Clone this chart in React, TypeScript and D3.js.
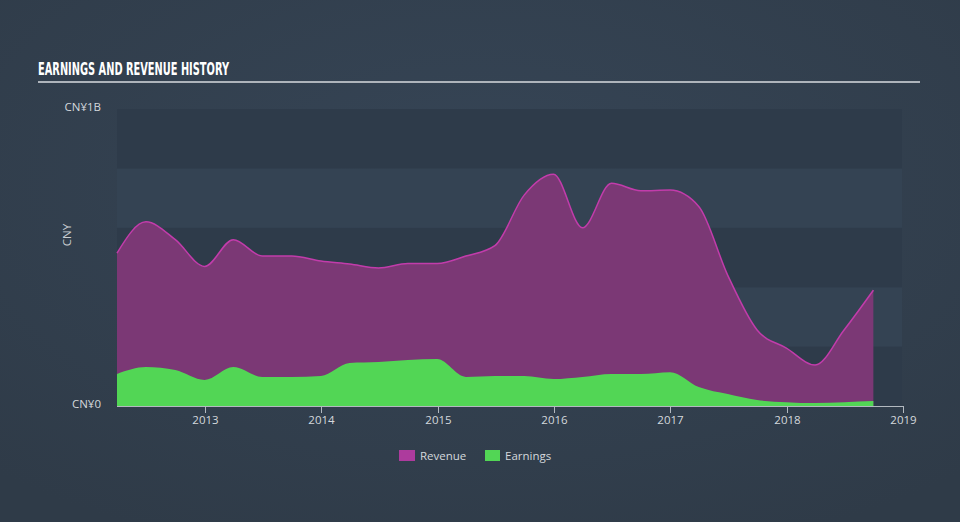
import React from "react";
import * as d3 from "d3";

const dates: string[] = [
  "2012-03-31", "2012-06-30", "2012-09-30", "2012-12-31",
  "2013-03-31", "2013-06-30", "2013-09-30", "2013-12-31",
  "2014-03-31", "2014-06-30", "2014-09-30", "2014-12-31",
  "2015-03-31", "2015-06-30", "2015-09-30", "2015-12-31",
  "2016-03-31", "2016-06-30", "2016-09-30", "2016-12-31",
  "2017-03-31", "2017-06-30", "2017-09-30", "2017-12-31",
  "2018-03-31", "2018-06-30", "2018-09-30",
];

const revenue: number[] = [
  0.515, 0.62, 0.56, 0.47,
  0.56, 0.505, 0.505, 0.488,
  0.478, 0.465, 0.48, 0.48,
  0.505, 0.54, 0.71, 0.78,
  0.60, 0.75, 0.725, 0.727,
  0.672, 0.44, 0.256, 0.195,
  0.138, 0.256, 0.39,
];

const earnings: number[] = [
  0.108, 0.131, 0.121, 0.0875,
  0.131, 0.0976, 0.0976, 0.101,
  0.145, 0.148, 0.155, 0.158,
  0.098, 0.101, 0.101, 0.091,
  0.098, 0.108, 0.108, 0.114,
  0.064, 0.040, 0.020, 0.013,
  0.010, 0.013, 0.017,
];

const xTickYears: number[] = [2013, 2014, 2015, 2016, 2017, 2018, 2019];
const yTickLabels: string[] = ["CN¥0", "CN¥1B"];
const yTickValues: number[] = [0, 1];
const bandEdges: number[] = [0, 0.2, 0.4, 0.6, 0.8, 1.0];
const legendItems: string[] = ["Revenue", "Earnings"];

const FONT = "'Open Sans', 'DejaVu Sans', sans-serif";

export default function App() {
  const W = 960, H = 522;
  const parse = d3.timeParse("%Y-%m-%d");
  const pts = dates.map((d, i) => ({ date: parse(d) as Date, rev: revenue[i], earn: earnings[i] }));

  const x = d3.scaleTime()
    .domain([parse("2012-03-31") as Date, new Date(2019, 0, 1)])
    .range([117, 903]);
  const y = d3.scaleLinear().domain([0, 1]).range([406, 109]);

  const revArea = d3.area<any>()
    .x(d => x(d.date)).y0(y(0)).y1(d => y(d.rev))
    .curve(d3.curveMonotoneX);
  const revLine = d3.line<any>()
    .x(d => x(d.date)).y(d => y(d.rev))
    .curve(d3.curveMonotoneX);
  const earnArea = d3.area<any>()
    .x(d => x(d.date)).y0(y(0)).y1(d => y(d.earn))
    .curve(d3.curveMonotoneX);

  const plotLeft = 117, plotRight = 902;

  return (
    <svg width={W} height={H} style={{ position: "absolute", left: 0, top: 0 }} fontFamily={FONT}>
      <defs>
        <radialGradient id="bg" cx="50%" cy="35%" r="75%">
          <stop offset="0%" stopColor="#364556" />
          <stop offset="100%" stopColor="#2f3b48" />
        </radialGradient>
      </defs>
      <rect x={0} y={0} width={W} height={H} fill="url(#bg)" />

      {/* title */}
      <text x={38} y={75} fill="#ffffff" fontSize={17} fontWeight="bold"
        fontFamily="'Liberation Sans Narrow', 'DejaVu Sans Condensed', sans-serif"
        textLength={191} lengthAdjust="spacingAndGlyphs">
        EARNINGS AND REVENUE HISTORY
      </text>
      <rect x={38} y={81} width={882} height={2} fill="#aeb4bb" />

      {/* bands */}
      {bandEdges.slice(0, -1).map((b, i) => (
        <rect key={i} x={plotLeft} y={y(bandEdges[i + 1])} width={plotRight - plotLeft}
          height={y(b) - y(bandEdges[i + 1])}
          fill={i % 2 === 0 ? "#2e3b4a" : "#344353"} />
      ))}

      {/* areas */}
      <path d={revArea(pts) || ""} fill="#7b3875" />
      <path d={revLine(pts) || ""} fill="none" stroke="#c23cab" strokeWidth={1.5} />
      <path d={earnArea(pts) || ""} fill="#52d655" />

      {/* x axis */}
      <line x1={plotLeft} x2={903} y1={406.5} y2={406.5} stroke="#b3b9c0" strokeWidth={1} />
      {xTickYears.map(yr => {
        const xx = Math.round(x(new Date(yr, 0, 1))) + 0.5;
        return (
          <g key={yr}>
            <line x1={xx} x2={xx} y1={406} y2={413} stroke="#b3b9c0" strokeWidth={1} />
            <text x={xx} y={424} fill="#d4d8dc" fontSize={11.5} textAnchor="middle">{yr}</text>
          </g>
        );
      })}

      {/* y labels */}
      {yTickValues.map((v, i) => (
        <text key={i} x={101} y={y(v) + 2} fill="#d4d8dc" fontSize={11.5} textAnchor="end">
          {yTickLabels[i]}
        </text>
      ))}
      <text transform={`translate(71,235) rotate(-90)`} fill="#c9cdd2" fontSize={11.5} textAnchor="middle">CNY</text>

      {/* legend */}
      <rect x={399} y={450} width={16} height={11} fill="#ad3b9d" />
      <text x={420} y={460} fill="#d4d8dc" fontSize={11.5}>{legendItems[0]}</text>
      <rect x={485} y={450} width={15} height={11} fill="#52d655" />
      <text x={505} y={460} fill="#d4d8dc" fontSize={11.5}>{legendItems[1]}</text>
    </svg>
  );
}
